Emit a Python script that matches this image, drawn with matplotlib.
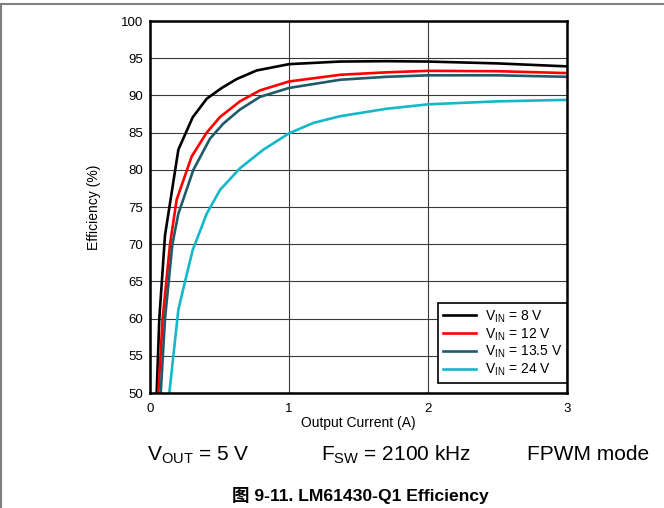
import matplotlib.pyplot as plt
from matplotlib.lines import Line2D

# Efficiency curves (x in A, y in %)
x_8v = [0.048, 0.067, 0.108, 0.204, 0.307, 0.408, 0.516, 0.624, 0.767, 1.0, 1.367, 1.7, 2.0, 2.5, 3.0]
y_8v = [50, 60, 71.2, 82.7, 87.05, 89.55, 91.0, 92.2, 93.35, 94.2, 94.55, 94.6, 94.55, 94.3, 93.9]

x_12v = [0.06, 0.091, 0.144, 0.192, 0.3, 0.408, 0.504, 0.647, 0.791, 1.0, 1.367, 1.7, 2.0, 2.5, 3.0]
y_12v = [50, 60, 70, 76.0, 81.8, 85.0, 87.1, 89.2, 90.67, 91.87, 92.77, 93.1, 93.3, 93.25, 93.0]

x_13v5 = [0.077, 0.108, 0.161, 0.204, 0.312, 0.432, 0.527, 0.647, 0.791, 1.0, 1.367, 1.7, 2.0, 2.5, 3.0]
y_13v5 = [50, 60, 70, 74.1, 80.0, 84.2, 86.2, 88.1, 89.8, 91.0, 92.1, 92.5, 92.7, 92.7, 92.5]

x_24v = [0.139, 0.204, 0.252, 0.307, 0.408, 0.504, 0.647, 0.815, 1.0, 1.175, 1.367, 1.7, 2.0, 2.5, 3.0]
y_24v = [50, 61.2, 65, 69.2, 74.1, 77.3, 80.2, 82.7, 84.9, 86.3, 87.2, 88.2, 88.8, 89.2, 89.4]

labels = [r'V$_{\mathregular{IN}}$ = 8 V', r'V$_{\mathregular{IN}}$ = 12 V',
          r'V$_{\mathregular{IN}}$ = 13.5 V', r'V$_{\mathregular{IN}}$ = 24 V']
colors = ['#000000', '#FF0000', '#1F5A6B', '#14B8C8']

plt.rcParams['font.family'] = ['Liberation Sans', 'Noto Sans CJK SC', 'DejaVu Sans']

fig = plt.figure(figsize=(6.64, 5.08), dpi=100)
ax = fig.add_axes([150 / 664, 1 - 393 / 508, 417 / 664, 372 / 508])

series = [(x_8v, y_8v), (x_12v, y_12v), (x_13v5, y_13v5), (x_24v, y_24v)]
for (xs, ys), lab, c in zip(series, labels, colors):
    ax.plot(xs, ys, color=c, lw=1.9, label=lab, solid_joinstyle='round')

ax.set_xlim(0, 3)
ax.set_ylim(50, 100)
ax.set_xticks([0, 1, 2, 3])
ax.set_yticks(range(50, 101, 5))
ax.tick_params(length=0, labelsize=9.5)
ax.tick_params(axis='x', pad=7)
ax.tick_params(axis='y', pad=5)
ax.grid(True, color='#3a3a3a', lw=0.8)
for s in ax.spines.values():
    s.set_linewidth(1.8)
ax.set_xlabel('Output Current (A)', fontsize=10, labelpad=1)
ax.set_ylabel('Efficiency (%)', fontsize=10, labelpad=14)

leg = ax.legend(loc='lower right', bbox_to_anchor=(1.0, 0.027), fontsize=10,
                frameon=True, fancybox=False, edgecolor='black', framealpha=1,
                handlelength=2.4, borderpad=0.35, labelspacing=0.1, borderaxespad=0,
                handletextpad=0.6)
leg.get_frame().set_linewidth(1.2)

# notes under the chart
fig.text(198 / 664, 1 - 455 / 508, r'V$_{\mathregular{OUT}}$ = 5 V', fontsize=15, ha='center', va='center')
fig.text(396 / 664, 1 - 455 / 508, r'F$_{\mathregular{SW}}$ = 2100 kHz', fontsize=15, ha='center', va='center')
fig.text(588 / 664, 1 - 455 / 508, 'FPWM mode', fontsize=15, ha='center', va='center')
fig.text(360 / 664, 1 - 496 / 508, '图 9-11. LM61430-Q1 Efficiency', fontsize=12.6,
         fontweight='bold', ha='center', va='center')

# page border
fig.add_artist(Line2D([0, 1], [1 - 4 / 508, 1 - 4 / 508], color='#808080', lw=1.5))
fig.add_artist(Line2D([0.5 / 664, 0.5 / 664], [0, 1 - 4 / 508], color='#808080', lw=1.5))

fig.savefig('out.png', dpi=100)
